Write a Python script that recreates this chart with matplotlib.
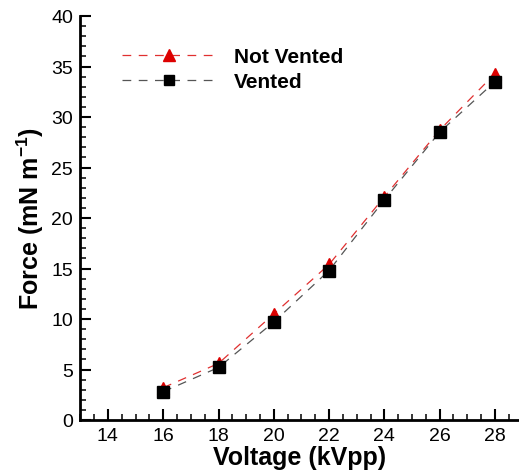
import matplotlib
matplotlib.use("Agg")
import matplotlib.pyplot as plt
from matplotlib.ticker import MultipleLocator

plt.rcParams['font.family'] = ['Liberation Sans', 'DejaVu Sans']
plt.rcParams['mathtext.fontset'] = 'custom'
plt.rcParams['mathtext.rm'] = 'Liberation Sans:bold'
plt.rcParams['mathtext.bf'] = 'Liberation Sans:bold'
plt.rcParams['mathtext.default'] = 'bf'

voltage = [16, 18, 20, 22, 24, 26, 28]
force_not_vented = [3.2, 5.6, 10.5, 15.4, 22.1, 28.7, 34.3]
force_vented = [2.8, 5.2, 9.7, 14.8, 21.8, 28.5, 33.5]
series_labels = ["Not Vented", "Vented"]
x_ticks = [14, 16, 18, 20, 22, 24, 26, 28]
y_ticks = [0, 5, 10, 15, 20, 25, 30, 35, 40]

fig = plt.figure(figsize=(5.19, 4.77), dpi=100)
ax = fig.add_axes([80/519, 1-421/477, 1-80/519, (421-17)/477])

ax.plot(voltage, force_not_vented, linestyle=(0, (7, 6)), color='#e03030', lw=0.9,
        marker='^', markersize=9, markerfacecolor='#dd0000', markeredgecolor='#dd0000',
        label=series_labels[0])
ax.plot(voltage, force_vented, linestyle=(0, (7, 6)), color='#555555', lw=0.9,
        marker='s', markersize=8, markerfacecolor='black', markeredgecolor='black',
        label=series_labels[1])

ax.set_xlim(12.99, 28.87)
ax.set_ylim(0, 40)
ax.set_xticks(x_ticks)
ax.set_yticks(y_ticks)
ax.xaxis.set_minor_locator(MultipleLocator(0.5))
ax.yaxis.set_minor_locator(MultipleLocator(1))
ax.tick_params(which='major', direction='in', length=8, width=1.5, labelsize=14, pad=5)
ax.tick_params(which='minor', direction='in', length=4.5, width=1.1)
for s in ['top', 'right']:
    ax.spines[s].set_visible(False)
for s in ['left', 'bottom']:
    ax.spines[s].set_linewidth(2)

ax.set_xlabel('Voltage (kVpp)', fontsize=18, fontweight='bold', labelpad=1)
ax.set_ylabel(r'Force (mN m$^{-1}$)', fontsize=18, fontweight='bold', labelpad=4)

leg = ax.legend(loc='upper left', bbox_to_anchor=(0.052, 0.97), frameon=False,
                handlelength=4.6, numpoints=1, markerscale=0.9,
                prop={'size': 15, 'weight': 'bold'}, labelspacing=0.3, handletextpad=0.8)

fig.savefig('out.png', dpi=100)
